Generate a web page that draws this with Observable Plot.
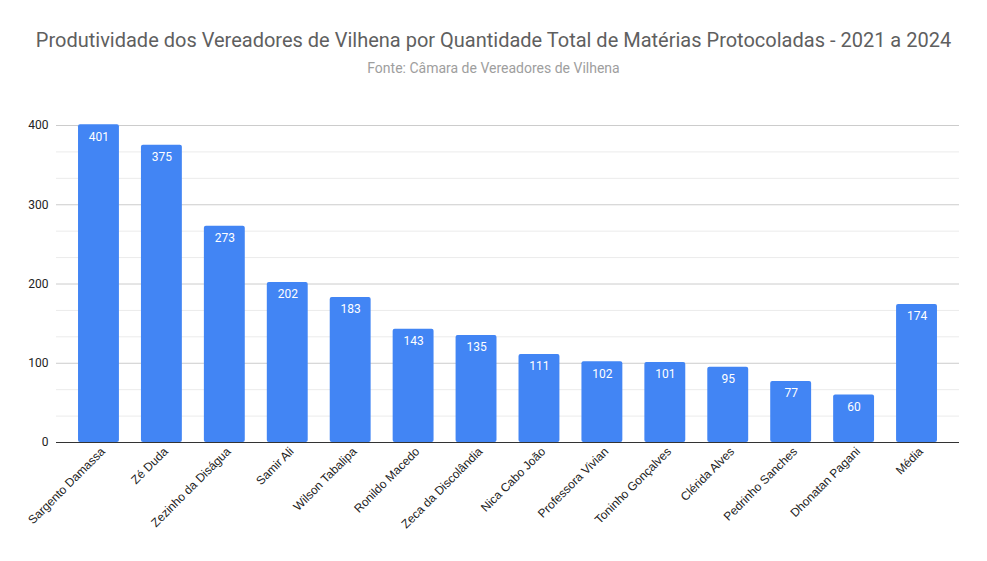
<!DOCTYPE html>
<html>
<head>
<meta charset="utf-8">
<script src="https://cdn.jsdelivr.net/npm/d3@7"></script>
<script src="https://cdn.jsdelivr.net/npm/@observablehq/plot@0.6"></script>
<style>
  html, body { margin: 0; padding: 0; background: #fff; }
  body { width: 987px; height: 561px; overflow: hidden; font-family: Roboto, "Liberation Sans", sans-serif; }
  #title { position: absolute; left: 0; top: 28px; width: 987px; text-align: center; font-size: 20px; color: #5f5f5f; }
  #subtitle { position: absolute; left: 0; top: 60px; width: 987px; text-align: center; font-size: 14px; color: #9e9e9e; }
  #chart { position: absolute; left: 0; top: 90px; }
</style>
</head>
<body>
<div id="title">Produtividade dos Vereadores de Vilhena por Quantidade Total de Matérias Protocoladas - 2021 a 2024</div>
<div id="subtitle">Fonte: Câmara de Vereadores de Vilhena</div>
<div id="chart"></div>
<script>
const names = ["Sargento Damassa", "Zé Duda", "Zezinho da Diságua", "Samir Ali", "Wilson Tabalipa", "Ronildo Macedo", "Zeca da Discolândia", "Nica Cabo João", "Professora Vivian", "Toninho Gonçalves", "Clérida Alves", "Pedrinho Sanches", "Dhonatan Pagani", "Média"];
const totals = [401, 375, 273, 202, 183, 143, 135, 111, 102, 101, 95, 77, 60, 174];
const majorTicks = [0, 100, 200, 300, 400];
const minorTicks = [100/3, 200/3, 400/3, 500/3, 700/3, 800/3, 1000/3, 1100/3];

const data = names.map((n, i) => ({name: n, value: totals[i]}));

const chart = Plot.plot({
  width: 987,
  height: 471,
  marginLeft: 56,
  marginRight: 28,
  marginTop: 35,
  marginBottom: 119,
  style: {fontFamily: "Roboto, sans-serif", fontSize: "12px", color: "#222", background: "transparent"},
  x: {domain: names, paddingInner: 0.35, paddingOuter: 0.35, round: false, label: null},
  y: {domain: [0, 400], ticks: majorTicks, label: null},
  marks: [
    Plot.ruleY(minorTicks, {stroke: "#ebebeb", strokeWidth: 1}),
    Plot.ruleY(majorTicks.slice(1), {stroke: "#cccccc", strokeWidth: 1}),
    Plot.barY(data, {x: "name", y: "value", fill: "#4285F4", rx: 2}),
    Plot.ruleY([0], {stroke: "#333", strokeWidth: 1}),
    Plot.text(data, {x: "name", y: "value", text: d => String(d.value), fill: "white", dy: 12, fontSize: 12}),
    Plot.axisY({ticks: majorTicks, tickSize: 0, tickPadding: 8, label: null, fill: "#222"}),
    Plot.axisX({tickSize: 0, tickRotate: -45, tickPadding: 7, label: null, fill: "#222", dx: 4,
      fontFamily: "'Liberation Sans', Arial, sans-serif", fontSize: 12})
  ]
});
document.getElementById("chart").appendChild(chart);
</script>
</body>
</html>
